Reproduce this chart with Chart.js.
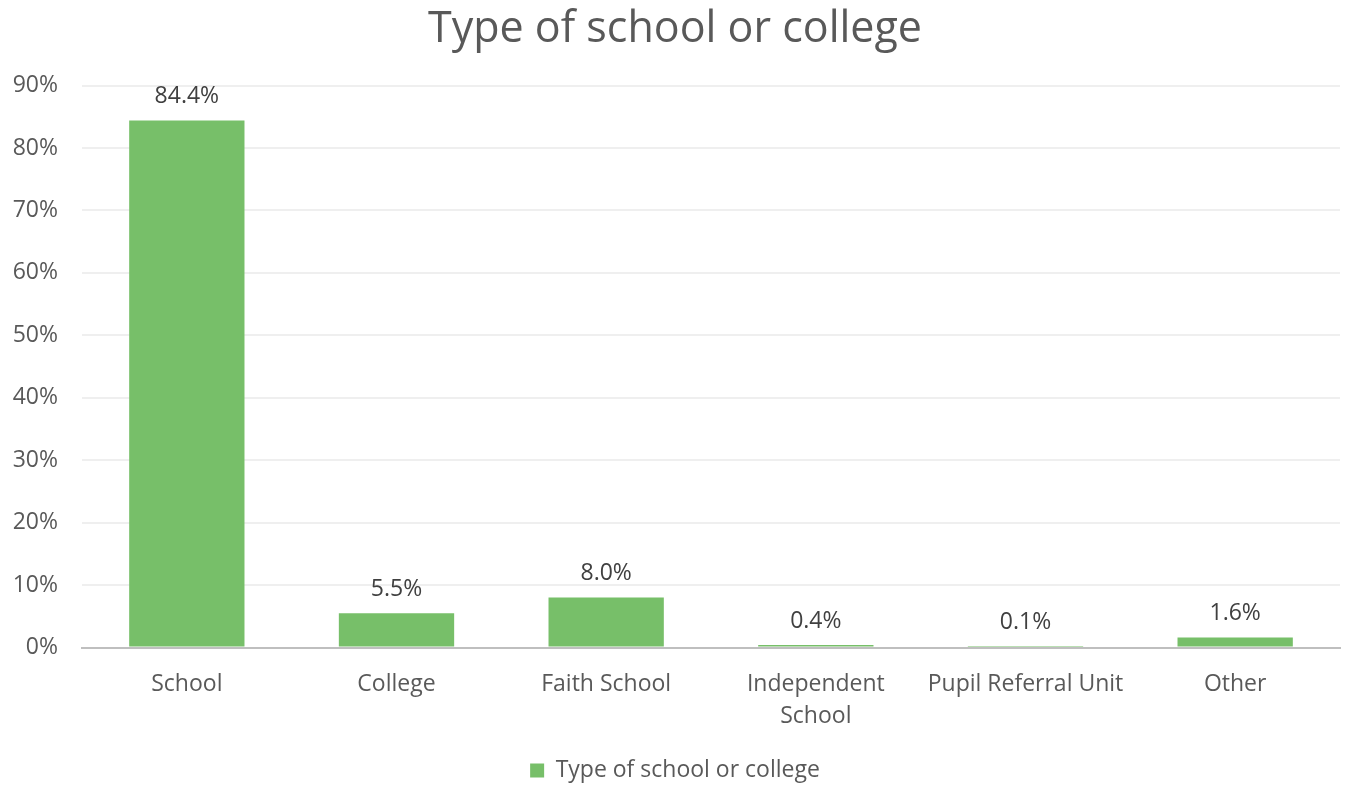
<!DOCTYPE html>
<html>
<head>
<meta charset="utf-8">
<script src="https://cdn.jsdelivr.net/npm/chart.js@4"></script>
<style>
  html, body { margin: 0; padding: 0; background: #fff; }
  #wrap { width: 1348px; height: 787px; position: relative; }
</style>
</head>
<body>
<div id="wrap"><canvas id="chart"></canvas></div>
<script>
// chart data
const categories = ['School', 'College', 'Faith School', ['Independent', 'School'], 'Pupil Referral Unit', 'Other'];
const shares = [84.4, 5.5, 8.0, 0.4, 0.1, 1.6];
const yTicks = [0, 10, 20, 30, 40, 50, 60, 70, 80, 90];

const textGrey = '#595959';
const barGreen = '#77BF69';

// draws the value above each bar
const valueLabels = {
  id: 'valueLabels',
  afterDatasetsDraw(chart) {
    const ctx = chart.ctx;
    const meta = chart.getDatasetMeta(0);
    ctx.save();
    ctx.font = '23px "Open Sans"';
    ctx.fillStyle = '#404040';
    ctx.textAlign = 'center';
    ctx.textBaseline = 'middle';
    meta.data.forEach((bar, i) => {
      ctx.fillText(shares[i].toFixed(1) + '%', bar.x, bar.y - 24);
    });
    ctx.restore();
  }
};

new Chart(document.getElementById('chart'), {
  type: 'bar',
  data: {
    labels: categories,
    datasets: [{
      label: 'Type of school or college',
      data: shares,
      backgroundColor: barGreen,
      borderWidth: 0,
      categoryPercentage: 1.0,
      barPercentage: 0.55
    }]
  },
  options: {
    responsive: true,
    maintainAspectRatio: false,
    animation: false,
    layout: { padding: { left: 10, right: 8, top: 4, bottom: -5 } },
    plugins: {
      title: {
        display: true,
        text: 'Type of school or college',
        color: textGrey,
        font: { family: 'Open Sans', size: 43, weight: 'normal', lineHeight: 1.2 },
        padding: { top: 0, bottom: 30 }
      },
      legend: {
        position: 'bottom',
        labels: {
          color: textGrey,
          font: { family: 'Open Sans', size: 23 },
          boxWidth: 14,
          boxHeight: 14,
          padding: 9
        }
      },
      tooltip: { enabled: false }
    },
    scales: {
      x: {
        grid: { display: false },
        border: { color: '#BFBFBF', width: 2 },
        afterFit: axis => { axis.height += 5; },
        ticks: {
          color: textGrey,
          font: { family: 'Open Sans', size: 23, lineHeight: 1.38 },
          padding: 13,
          maxRotation: 0
        }
      },
      y: {
        min: 0,
        max: 90,
        afterBuildTicks: axis => { axis.ticks = yTicks.map(v => ({ value: v })); },
        afterFit: axis => { axis.width = 72; },
        grid: { color: '#EFEFEF', lineWidth: 2, drawTicks: false },
        border: { display: false },
        ticks: {
          color: textGrey,
          font: { family: 'Open Sans', size: 23 },
          padding: 24,
          callback: v => v + '%'
        }
      }
    }
  },
  plugins: [valueLabels]
});
</script>
</body>
</html>
